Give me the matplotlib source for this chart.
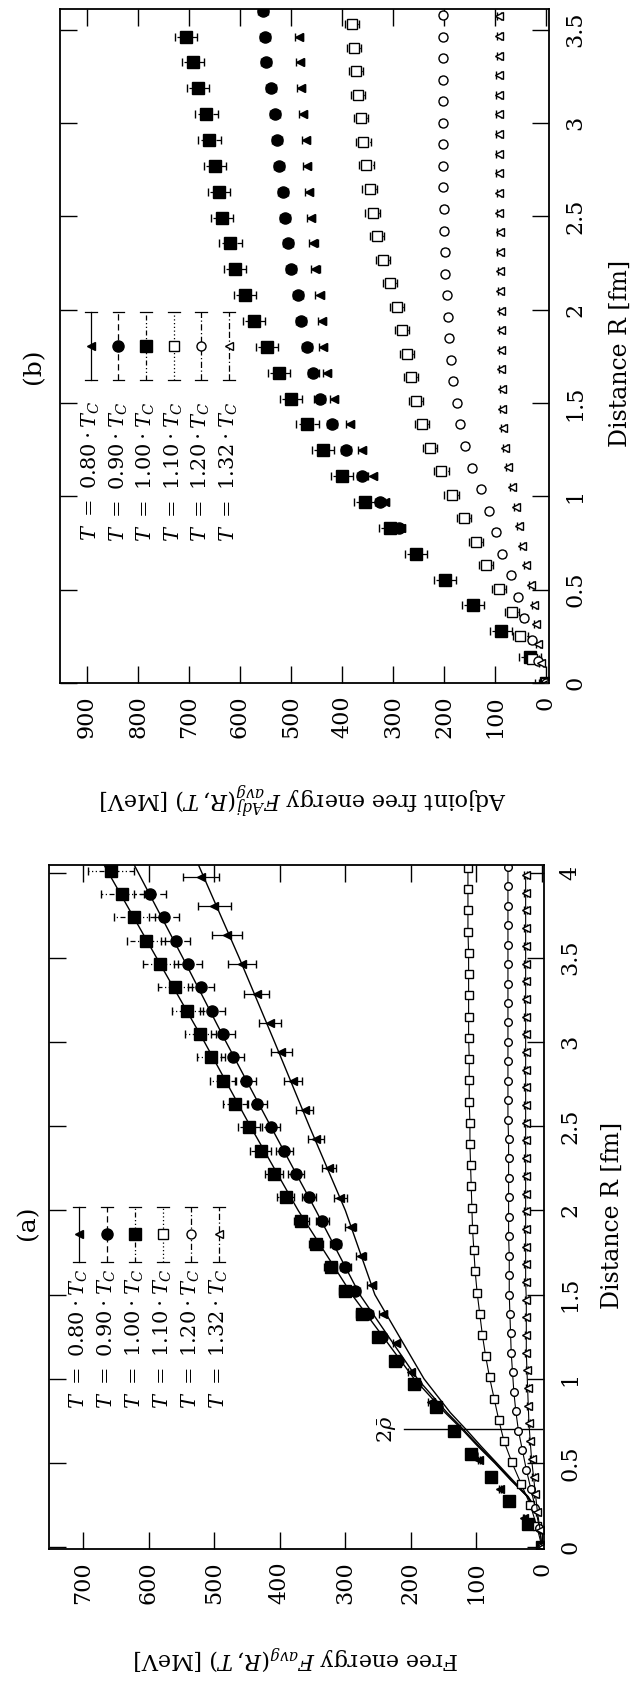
import numpy as np
import matplotlib
matplotlib.use('Agg')
import matplotlib.pyplot as plt

plt.rcParams['font.family'] = 'DejaVu Serif'
plt.rcParams['mathtext.fontset'] = 'dejavuserif'

# temperatures (T/Tc) and lattice spacing of each run [fm]
temps = ['0.80', '0.90', '1.00', '1.10', '1.20', '1.32']
spacing_a = [0.173, 0.1385, 0.1385, 0.126, 0.1154, 0.105]
spacing_b = [0.1385, 0.1385, 0.1385, 0.126, 0.1154, 0.105]

# ---- (a) free energy F_avg(R,T) [MeV] ----
Fa_080 = [0, 28, 64, 96, 135, 170, 200, 222, 242, 260, 276, 292, 308, 325, 345,
          362, 380, 398, 415, 435, 458, 480, 500, 520]
Fa_090 = [0, 22, 50, 78, 107, 134, 160, 192, 220, 244, 265, 285, 300, 315, 335,
          355, 375, 393, 413, 434, 452, 472, 487, 503, 520, 540, 559, 577, 598]
Fa_100 = [0, 22, 50, 78, 108, 135, 162, 195, 225, 250, 275, 300, 322, 345, 367,
          391, 409, 429, 447, 468, 487, 505, 521, 541, 560, 582, 604, 622, 640, 658]
Fa_110 = [0, 8, 18, 32, 46, 58, 66, 73, 80, 86, 91, 95, 99, 102, 104, 106, 107,
          108, 109, 110, 110, 111, 111, 111, 112, 112, 112, 112, 112, 113, 113, 113, 113]
Fa_120 = [0, 4, 10, 17, 24, 30, 36, 40, 43, 45, 47, 48, 49, 50, 50, 50, 51, 51,
          51, 51, 51, 51, 52, 52, 52, 52, 52, 52, 52, 52, 52, 52, 52, 52, 52, 52]
Fa_132 = [0, 3, 7, 10, 13, 16, 18, 20, 21, 22, 23, 24, 24, 24, 24, 25, 25, 25,
          25, 25, 25, 25, 25, 25, 25, 25, 25, 25, 25, 25, 25, 25, 25, 25, 25,
          25, 25, 25, 25]
Ea_080 = [0, 1, 2, 2, 3, 4, 5, 5, 6, 7, 8, 9, 10, 11, 12, 13, 14, 16, 17, 19,
          21, 23, 25, 28]
Ea_090 = [0, 1, 1, 2, 2, 3, 4, 4, 5, 6, 7, 7, 8, 9, 10, 11, 12, 13, 14, 15, 16,
          17, 18, 19, 20, 21, 22, 23, 25]
Ea_100 = [0, 1, 1, 2, 3, 3, 4, 5, 6, 7, 8, 9, 10, 11, 12, 13, 14, 16, 17, 18,
          20, 21, 23, 24, 26, 27, 29, 31, 33, 35]
Ea_open = [2, 2, 2]

# fitted curves for the three confined temperatures
fit_R = [0.2, 0.3, 0.4, 0.5, 0.6, 0.7, 0.8, 1.0, 1.5, 2.0, 2.5, 3.0, 3.5, 4.05]
fit_080 = [5, 21, 45, 69, 93, 116, 140, 180, 255, 300, 355, 408, 462, 524]
fit_090 = [5, 22, 47, 71, 96, 120, 145, 190, 278, 345, 414, 482, 548, 622]
fit_100 = [5, 22, 48, 72, 98, 122, 148, 195, 290, 372, 445, 515, 588, 668]
rho2_R = 0.70
rho2_F = 210

# ---- (b) adjoint free energy ----
Fb_080 = [0, 31, 88, 143, 198, 255, 285, 315, 340, 360, 385, 415, 429, 437, 440,
          444, 452, 456, 460, 464, 468, 470, 476, 480, 482, 484]
Fb_090 = [0, 31, 88, 143, 198, 255, 288, 325, 361, 392, 420, 444, 456, 468, 480,
          486, 500, 506, 511, 515, 523, 527, 531, 539, 549, 551, 555]
Fb_100 = [0, 31, 88, 143, 198, 255, 306, 355, 400, 437, 468, 500, 524, 547, 572,
          590, 610, 619, 635, 641, 649, 660, 666, 682, 692, 706]
Fb_110 = [0, 28, 50, 67, 92, 118, 137, 161, 185, 205, 228, 243, 255, 264, 272,
          282, 292, 306, 320, 332, 340, 346, 352, 358, 363, 368, 372, 376, 380]
Fb_120 = [0, 15, 28, 43, 55, 68, 86, 98, 112, 128, 145, 158, 168, 174, 182, 187,
          190, 193, 195, 197, 198, 199, 200, 201, 202, 202, 202, 202, 202, 201,
          201, 202]
Fb_132 = [0, 10, 15, 19, 24, 30, 39, 47, 53, 58, 66, 74, 80, 84, 86, 87, 88, 88,
          89, 89, 90, 90, 91, 91, 92, 92, 93, 93, 93, 93, 93, 93, 92, 92, 92]
Eb = [8, 10, 22, 14, 5, 4]

markers = ['<', 'o', 's', 's', 'o', '<']
filled = [True, True, True, False, False, False]
styles = ['-', (0, (5, 3)), (0, (4, 2, 1, 2, 1, 2)), (0, (1, 2)), (0, (5, 2, 1, 2)),
          (0, (5, 2, 5, 2, 1, 2))]

W, H = 634, 1684
fig = plt.figure(figsize=(W / 100, H / 100), dpi=100)


def box(l, t, r, b):
    return [l / W, 1 - b / H, (r - l) / W, (b - t) / H]


def series(ax, F, a, i, err, ms, joined=False):
    R = np.arange(len(F)) * a
    c = ax.errorbar(F, R, xerr=err, fmt=markers[i], ms=ms,
                    mfc='black' if filled[i] else 'white', mec='black', mew=1.0,
                    ecolor='black', elinewidth=0.9, capsize=3, capthick=0.9,
                    color='black', ls='-' if joined else 'none', lw=0.8)
    c[2][0].set_linestyle(styles[i])


def legend(ax, x0, dx, y1, y2, yt, sizes):
    for i, t in enumerate(temps):
        x = x0 + i * dx
        ax.plot([x, x], [y1, y2], transform=ax.transAxes, color='black',
                lw=0.9, ls=styles[i], clip_on=False)
        for y in (y1, y2):
            ax.plot([x - 0.012, x + 0.012], [y, y], transform=ax.transAxes,
                    color='black', lw=0.9)
        ax.plot(x, (y1 + y2) / 2, marker=markers[i], ms=sizes[i], color='black',
                mfc='black' if filled[i] else 'white', mec='black',
                transform=ax.transAxes)
        ax.text(x, yt, r'$T\ =\ %s\cdot T_C$' % t, rotation=90, ha='center',
                va='top', fontsize=15, transform=ax.transAxes)


def frame(ax, ymax_tick):
    ax.tick_params(direction='in', length=12, width=1.0, top=True, bottom=True,
                   left=True, right=True, labelsize=16, labelleft=False,
                   labelright=True, labeltop=False)
    ax.tick_params(axis='x', labelrotation=90, pad=9)
    ax.tick_params(axis='y', labelrotation=90, pad=11)
    for lab in ax.get_yticklabels():
        lab.set_va('center')
    for s in ax.spines.values():
        s.set_linewidth(1.3)


# panel (b)
axb = fig.add_axes(box(60, 9, 549, 683))
for i, F in enumerate([Fb_080, Fb_090, Fb_100, Fb_110, Fb_120, Fb_132]):
    series(axb, F, spacing_b[i], i, Eb[i], [6, 8, 8.5, 7, 6.5, 6][i])
axb.set_xlim(953, -6)
axb.set_ylim(0, 3.61)
axb.set_xticks(np.arange(0, 901, 100))
axb.set_yticks([0, 0.5, 1, 1.5, 2, 2.5, 3, 3.5])
axb.set_yticklabels(['0', '0.5', '1', '1.5', '2', '2.5', '3', '3.5'])
frame(axb, 3.5)
legend(axb, 0.063, 0.0565, 0.450, 0.550, 0.418, [6, 8, 8.5, 7, 6.5, 6])

# panel (a)
axa = fig.add_axes(box(49, 865, 544, 1549))
for i, F in enumerate([Fa_080, Fa_090, Fa_100]):
    series(axa, F, spacing_a[i], i, [Ea_080, Ea_090, Ea_100][i], [6, 8, 8.5][i])
for i, F in zip([3, 4, 5], [Fa_110, Fa_120, Fa_132]):
    series(axa, F, spacing_a[i], i, 2, 5.5, joined=True)
for fit in (fit_080, fit_090, fit_100):
    axa.plot(fit, fit_R, color='black', lw=1.0)
axa.plot([0, rho2_F], [rho2_R, rho2_R], color='black', lw=1.0)
axa.text(rho2_F + 10, rho2_R, r'$2\bar{\rho}$', rotation=90, ha='right',
         va='center', fontsize=15)
axa.set_xlim(752, -3)
axa.set_ylim(-0.01, 4.05)
axa.set_xticks(np.arange(0, 701, 100))
axa.set_yticks([0, 0.5, 1, 1.5, 2, 2.5, 3, 3.5, 4])
axa.set_yticklabels(['0', '0.5', '1', '1.5', '2', '2.5', '3', '3.5', '4'])
frame(axa, 4)
legend(axa, 0.061, 0.0566, 0.42, 0.50, 0.41, [6, 8, 8.5, 7, 6.5, 6])

# axis titles (figure is turned by 90 degrees)
fig.text(620 / W, 1 - 353 / H, 'Distance R [fm]', rotation=90, ha='center',
         va='center', fontsize=17)
fig.text(612 / W, 1 - 1215 / H, 'Distance R [fm]', rotation=90, ha='center',
         va='center', fontsize=17)
fig.text(303 / W, 1 - 797 / H, r'Adjoint free energy $F_{avg}^{Adj}(R,T)$ [MeV]',
         rotation=180, ha='center', va='center', fontsize=16)
fig.text(296 / W, 1 - 1657 / H, r'Free energy $F_{avg}(R,T)$ [MeV]',
         rotation=180, ha='center', va='center', fontsize=16)
fig.text(34 / W, 1 - 366 / H, '(b)', rotation=90, ha='center', va='center',
         fontsize=18)
fig.text(28 / W, 1 - 1223 / H, '(a)', rotation=90, ha='center', va='center',
         fontsize=18)

fig.savefig('out.png', dpi=100)
